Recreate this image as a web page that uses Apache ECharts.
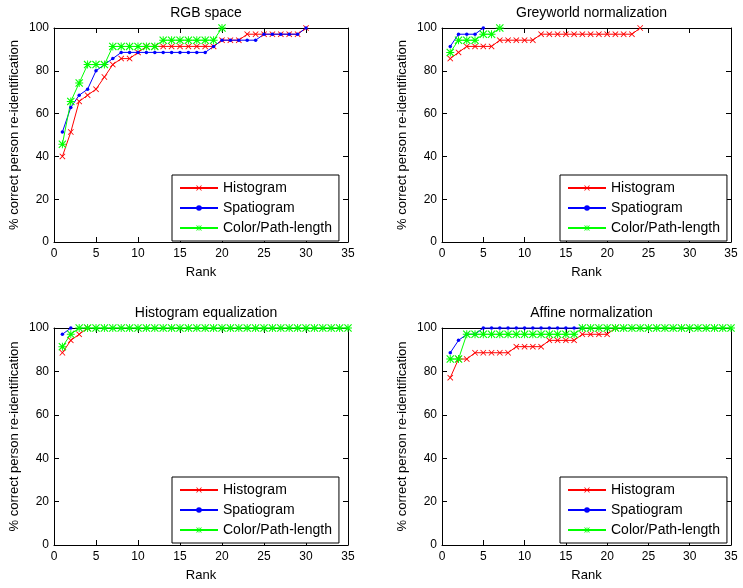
<!DOCTYPE html>
<html>
<head>
<meta charset="utf-8">
<script src="https://cdn.jsdelivr.net/npm/echarts@6/dist/echarts.min.js"></script>
<style>
html, body { margin: 0; padding: 0; background: #fff; }
#main { width: 743px; height: 588px; }
</style>
</head>
<body>
<div id="main"></div>
<script>
// rank axis positions
const ranks = [1, 2, 3, 4, 5, 6, 7, 8, 9, 10, 11, 12, 13, 14, 15, 16, 17, 18, 19, 20,
    21, 22, 23, 24, 25, 26, 27, 28, 29, 30, 31, 32, 33, 34, 35];
const xTicks = [0, 5, 10, 15, 20, 25, 30, 35];
const yTicks = [0, 20, 40, 60, 80, 100];
const seriesNames = ['Histogram', 'Spatiogram', 'Color/Path-length'];
const panelTitles = ['RGB space', 'Greyworld normalization', 'Histogram equalization', 'Affine normalization'];

// RGB space
const rgbHist = [40.0, 51.4, 65.7, 68.6, 71.4, 77.1, 82.9, 85.7, 85.7, 88.6,
    91.4, 91.4, 91.4, 91.4, 91.4, 91.4, 91.4, 91.4, 91.4, 94.3,
    94.3, 94.3, 97.1, 97.1, 97.1, 97.1, 97.1, 97.1, 97.1, 100];
const rgbSpat = [51.4, 62.9, 68.6, 71.4, 80.0, 82.9, 85.7, 88.6, 88.6, 88.6,
    88.6, 88.6, 88.6, 88.6, 88.6, 88.6, 88.6, 88.6, 91.4, 94.3,
    94.3, 94.3, 94.3, 94.3, 97.1, 97.1, 97.1, 97.1, 97.1, 100];
const rgbColor = [45.7, 65.7, 74.3, 82.9, 82.9, 82.9, 91.4, 91.4, 91.4, 91.4,
    91.4, 91.4, 94.3, 94.3, 94.3, 94.3, 94.3, 94.3, 94.3, 100];

// Greyworld normalization
const greyHist = [85.7, 88.6, 91.4, 91.4, 91.4, 91.4, 94.3, 94.3, 94.3, 94.3,
    94.3, 97.1, 97.1, 97.1, 97.1, 97.1, 97.1, 97.1, 97.1, 97.1,
    97.1, 97.1, 97.1, 100];
const greySpat = [91.4, 97.1, 97.1, 97.1, 100];
const greyColor = [88.6, 94.3, 94.3, 94.3, 97.1, 97.1, 100];

// Histogram equalization
const eqHist = [88.6, 94.3, 97.1, 100];
const eqSpat = [97.1, 100];
const eqColor = [91.4, 97.1, 100, 100, 100, 100, 100, 100, 100, 100,
    100, 100, 100, 100, 100, 100, 100, 100, 100, 100,
    100, 100, 100, 100, 100, 100, 100, 100, 100, 100,
    100, 100, 100, 100, 100];

// Affine normalization
const affHist = [77.1, 85.7, 85.7, 88.6, 88.6, 88.6, 88.6, 88.6, 91.4, 91.4,
    91.4, 91.4, 94.3, 94.3, 94.3, 94.3, 97.1, 97.1, 97.1, 97.1, 100];
const affSpat = [88.6, 94.3, 97.1, 97.1, 100, 100, 100, 100, 100, 100,
    100, 100, 100, 100, 100, 100, 100];
const affColor = [85.7, 85.7, 97.1, 97.1, 97.1, 97.1, 97.1, 97.1, 97.1, 97.1,
    97.1, 97.1, 97.1, 97.1, 97.1, 97.1, 100, 100, 100, 100,
    100, 100, 100, 100, 100, 100, 100, 100, 100, 100,
    100, 100, 100, 100, 100];

const panelData = [
    [rgbHist, rgbSpat, rgbColor],
    [greyHist, greySpat, greyColor],
    [eqHist, eqSpat, eqColor],
    [affHist, affSpat, affColor]
];

const FONT = 'Arial, "Liberation Sans", sans-serif';
const xMark = 'path://M0,1 L1,0 L5,4 L9,0 L10,1 L6,5 L10,9 L9,10 L5,6 L1,10 L0,9 L4,5 Z';
const star = 'path://M4.4,0 H5.6 V10 H4.4 Z M0,4.4 H10 V5.6 H0 Z M0,1 L1,0 L10,9 L9,10 Z M9,0 L10,1 L1,10 L0,9 Z';
const styles = [
    { color: '#ff0000', symbol: xMark, size: 6 },
    { color: '#0000ff', symbol: 'circle', size: 3.5 },
    { color: '#00ff00', symbol: star, size: 8 }
];

const grids = [
    { left: 54, top: 28, width: 294, height: 214 },
    { left: 442, top: 28, width: 289, height: 214 },
    { left: 54, top: 328, width: 294, height: 217 },
    { left: 442, top: 328, width: 289, height: 217 }
];
const legendPos = [
    { left: 172, top: 175 },
    { left: 560, top: 175 },
    { left: 172, top: 477 },
    { left: 560, top: 477 }
];

let xAxis = [], yAxis = [], series = [], title = [], legend = [];
grids.forEach((g, i) => {
    const line = { show: true, onZero: false, lineStyle: { color: '#000', width: 1 } };
    const tick = { show: true, inside: true, length: 5, lineStyle: { color: '#000' } };
    xAxis.push({
        gridIndex: i, type: 'value', min: xTicks[0], max: xTicks[xTicks.length - 1], interval: 5,
        position: 'bottom', name: 'Rank', nameLocation: 'middle', nameGap: 24,
        nameTextStyle: { fontFamily: FONT, fontSize: 13, color: '#000' },
        axisLine: line, axisTick: tick, splitLine: { show: false },
        axisLabel: { fontFamily: FONT, fontSize: 12, color: '#000', margin: 6 }
    });
    xAxis.push({
        gridIndex: i, type: 'value', min: 0, max: 35, interval: 5, position: 'top',
        axisLine: line, axisTick: tick, splitLine: { show: false }, axisLabel: { show: false }
    });
    yAxis.push({
        gridIndex: i, type: 'value', min: yTicks[0], max: yTicks[yTicks.length - 1], interval: 20,
        position: 'left', name: '% correct person re-identification', nameLocation: 'middle',
        nameGap: 33, nameRotate: 90,
        nameTextStyle: { fontFamily: FONT, fontSize: 13, color: '#000' },
        axisLine: line, axisTick: tick, splitLine: { show: false },
        axisLabel: { fontFamily: FONT, fontSize: 12, color: '#000', margin: 5 }
    });
    yAxis.push({
        gridIndex: i, type: 'value', min: 0, max: 100, interval: 20, position: 'right',
        axisLine: line, axisTick: tick, splitLine: { show: false }, axisLabel: { show: false }
    });
    title.push({
        text: panelTitles[i], left: g.left + g.width / 2, top: g.top - 27, textAlign: 'center',
        textStyle: { fontFamily: FONT, fontSize: 14, fontWeight: 'normal', color: '#000' }
    });
    legend.push({
        data: seriesNames, orient: 'vertical', left: legendPos[i].left, top: legendPos[i].top,
        padding: [5, 7, 5, 7], itemGap: 4, itemWidth: 38, itemHeight: 7,
        borderColor: '#000', borderWidth: 1, borderRadius: 0, backgroundColor: '#fff',
        textStyle: { fontFamily: FONT, fontSize: 14, color: '#000', lineHeight: 16 },
        selectedMode: false
    });
    panelData[i].forEach((vals, k) => {
        series.push({
            name: seriesNames[k], type: 'line', xAxisIndex: 2 * i, yAxisIndex: 2 * i,
            data: vals.map((v, j) => [ranks[j], v]),
            symbol: styles[k].symbol, symbolSize: styles[k].size, showAllSymbol: true,
            lineStyle: { color: styles[k].color, width: 1 },
            itemStyle: { color: styles[k].color },
            animation: false, clip: false
        });
    });
});

const chart = echarts.init(document.getElementById('main'));
chart.setOption({
    backgroundColor: '#fff',
    animation: false,
    title: title,
    legend: legend,
    grid: grids,
    xAxis: xAxis,
    yAxis: yAxis,
    series: series
});
</script>
</body>
</html>
